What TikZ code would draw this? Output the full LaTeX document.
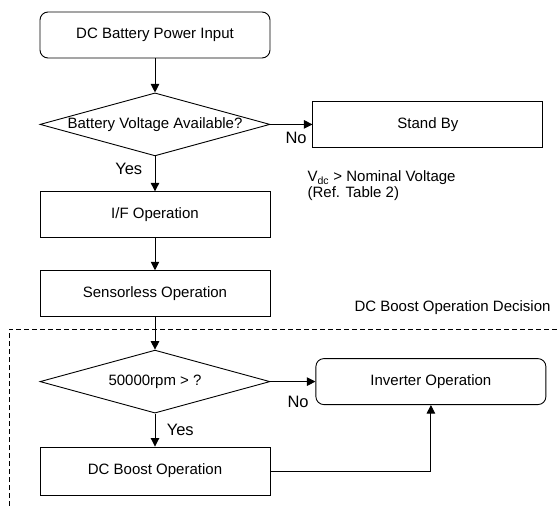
\documentclass[tikz,border=0pt]{standalone}
\usepackage{fontspec}
\setmainfont{Liberation Sans}
\usetikzlibrary{shapes.geometric,arrows.meta,positioning}

\begin{document}
\begin{tikzpicture}[
  x=1pt,y=-1pt,
  box/.style={draw, line width=0.9pt, minimum width=230pt, minimum height=46pt, font=\fontsize{15}{18}\selectfont},
  roundbox/.style={box, rounded corners=8pt},
  decision/.style={draw, diamond, line width=0.9pt, minimum width=230pt, minimum height=63pt,
    inner xsep=0pt, inner ysep=-1pt, shape aspect=3.5, font=\fontsize{15}{18}\selectfont},
  flow/.style={-{Triangle[width=8.5pt,length=8.5pt]}, line width=0.9pt},
  answer/.style={font=\fontsize{16.5}{19}\selectfont},
  zone/.style={dash pattern=on 5pt off 3pt, line width=0.8pt},
  every node/.style={align=center}]

\useasboundingbox (0,0) rectangle (557,506);

% Position the nodes relative to one another
\node[roundbox] (input) at (155,35) {DC Battery Power Input};
\node[decision, below=34pt of input] (voltage) {Battery Voltage Available?};
\node[box, right=42pt of voltage] (standby) {Stand By};
\node[box, below=35pt of voltage] (vf) {I/F Operation};
\node[box, below=32pt of vf] (sensorless) {Sensorless Operation};
\node[decision, below=32.5pt of sensorless] (speed) {50000rpm > ?};
\node[roundbox, right=45pt of speed] (inverter) {Inverter Operation};
\node[box, minimum height=48pt, below=33pt of speed] (boost) {DC Boost Operation};

% Notes and the boost decision region
\node[below right=23pt and -5pt of standby.south west, inner sep=0pt, align=left,
  font=\fontsize{15}{15.5}\selectfont] (note) {V\textsubscript{dc} > Nominal Voltage\\(Ref. Table 2)};
\draw [zone] (9,506) |- (557,329);
\node[anchor=base east, font=\fontsize{15}{18}\selectfont] (zonetitle) at (554,311) {DC Boost Operation Decision};

% Draw the arrows between the nodes and label them.
\draw [flow] (input) -- (voltage);
\draw [flow] (voltage.east) -- node[pos=1, below left=4pt and 2pt, answer] {No} (standby.west);
\draw [flow] (voltage) -- node[pos=0.35, left=9pt, answer] {Yes} (vf);
\draw [flow] (vf) -- (sensorless);
\draw [flow] (sensorless) -- (speed);
\draw [flow] (speed.east) -- node[pos=1, below left=11pt and 3pt, answer] {No} (inverter.west);
\draw [flow] (speed) -- node[pos=0.5, right=8pt, answer] {Yes} (boost);
\draw [flow] (boost.east) -| (inverter.south);

\end{tikzpicture}
\end{document}
